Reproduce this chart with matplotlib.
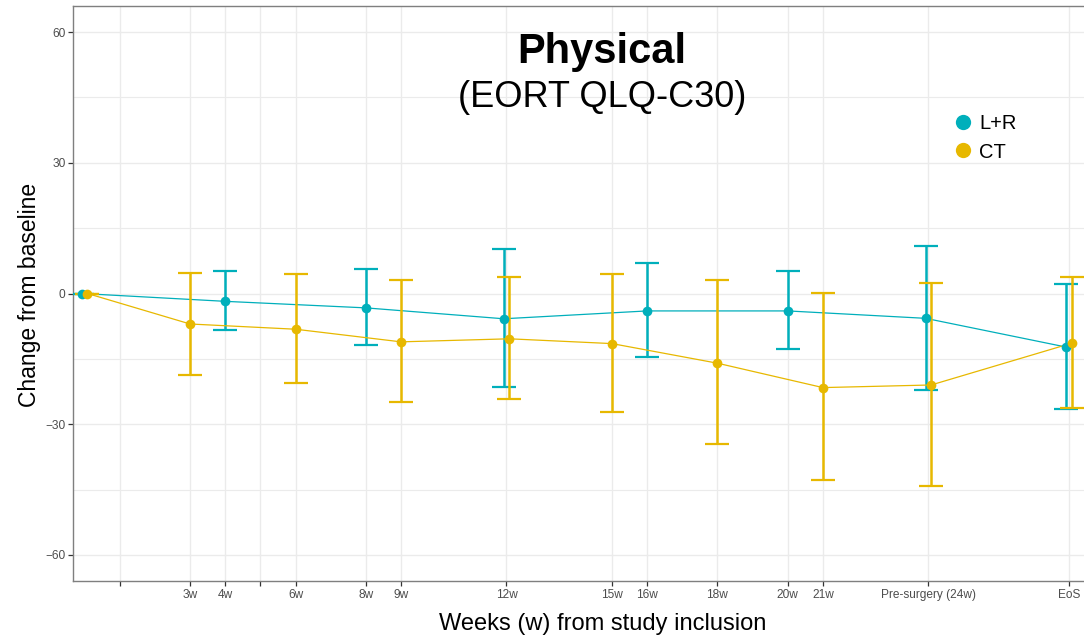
import matplotlib
matplotlib.use("Agg")
import matplotlib.pyplot as plt
from matplotlib.lines import Line2D
import numpy as np

plt.rcParams['font.family'] = ['Liberation Sans', 'DejaVu Sans']

# Visit weeks; EoS (end of study) sits at week 28 on the axis
lr_weeks = [0, 4, 8, 12, 16, 20, 24, 28]
lr_mean = [0.0, -1.8, -3.3, -5.8, -4.0, -4.0, -5.7, -12.3]
lr_low = [0.0, -8.3, -11.9, -21.5, -14.5, -12.8, -22.2, -26.6]
lr_high = [0.0, 5.2, 5.6, 10.3, 6.9, 5.1, 11.0, 2.2]

ct_weeks = [0, 3, 6, 9, 12, 15, 18, 21, 24, 28]
ct_mean = [0.0, -7.0, -8.2, -11.1, -10.4, -11.5, -16.0, -21.6, -21.0, -11.4]
ct_low = [0.0, -18.8, -20.5, -24.9, -24.3, -27.2, -34.6, -42.9, -44.2, -26.2]
ct_high = [0.0, 4.8, 4.4, 3.2, 3.8, 4.4, 3.0, 0.1, 2.5, 3.8]

tick_weeks = [1, 3, 4, 5, 6, 8, 9, 12, 15, 16, 18, 20, 21, 24, 28]
tick_labels = ['', '3w', '4w', '', '6w', '8w', '9w', '12w', '15w', '16w', '18w',
               '20w', '21w', 'Pre-surgery (24w)', 'EoS']

series = [
    ('L+R', '#00AFBB', lr_weeks, lr_mean, lr_low, lr_high, -1),
    ('CT', '#E7B800', ct_weeks, ct_mean, ct_low, ct_high, +1),
]

W, H = 1084, 639
fig = plt.figure(figsize=(W / 100, H / 100), dpi=100)
ax = fig.add_axes([73 / W, 1 - 581 / H, 1060 / W, 575 / H])

shared = set(lr_weeks) & set(ct_weeks)
dodge = 0.08

for k, (name, col, wk, mean, low, high, side) in enumerate(series):
    x = np.array([w + side * dodge if w in shared else w for w in wk], dtype=float)
    m = np.array(mean)
    yerr = np.vstack([m - np.array(low), np.array(high) - m])
    ax.plot(x, m, color=col, lw=0.9, zorder=3 + k)
    ax.errorbar(x, m, yerr=yerr, fmt='none', ecolor=col, elinewidth=1.8,
                capsize=8.6, capthick=1.6, zorder=3 + k)
    ax.plot(x, m, 'o', color=col, ms=7, mec='none', zorder=5 + k)

ax.set_xlim(-0.33, 29.82)
ax.set_ylim(-66, 66)
ax.set_xticks(tick_weeks)
ax.set_xticklabels(tick_labels)
ax.set_yticks([-60, -30, 0, 30, 60])
ax.set_yticks([-45, -15, 15, 45], minor=True)
ax.tick_params(axis='both', which='major', labelsize=8.6, labelcolor='#4D4D4D',
               color='#333333', length=3.5, width=0.9, pad=2)
ax.tick_params(axis='y', which='minor', length=0)

ax.grid(True, which='major', color='#EBEBEB', lw=1.0)
ax.grid(True, which='minor', axis='y', color='#EBEBEB', lw=0.8)
ax.set_axisbelow(True)

for s in ['left', 'bottom', 'top']:
    ax.spines[s].set_color('#7F7F7F')
    ax.spines[s].set_linewidth(1.0)
ax.spines['right'].set_visible(False)

fig.text(602 / W, 1 - 63 / H, 'Physical', ha='center', va='baseline',
         fontsize=30, fontweight='bold')
fig.text(602 / W, 1 - 107 / H, '(EORT QLQ-C30)', ha='center', va='baseline',
         fontsize=26)
fig.text(30 / W, 1 - 295 / H, 'Change from baseline', rotation=90,
         ha='center', va='center', fontsize=16.5)
fig.text(603 / W, 1 - 624 / H, 'Weeks (w) from study inclusion',
         ha='center', va='center', fontsize=17)

handles = [Line2D([], [], ls='none', marker='o', ms=11, color=c, mec='none')
           for _, c, *_ in series]
fig.legend(handles, [s[0] for s in series], loc='center left',
           bbox_to_anchor=(943 / W, 1 - 138 / H), frameon=False,
           fontsize=14.5, handletextpad=0.3, labelspacing=0.45,
           handlelength=1.0, borderpad=0)

fig.savefig('out.png', dpi=100)
